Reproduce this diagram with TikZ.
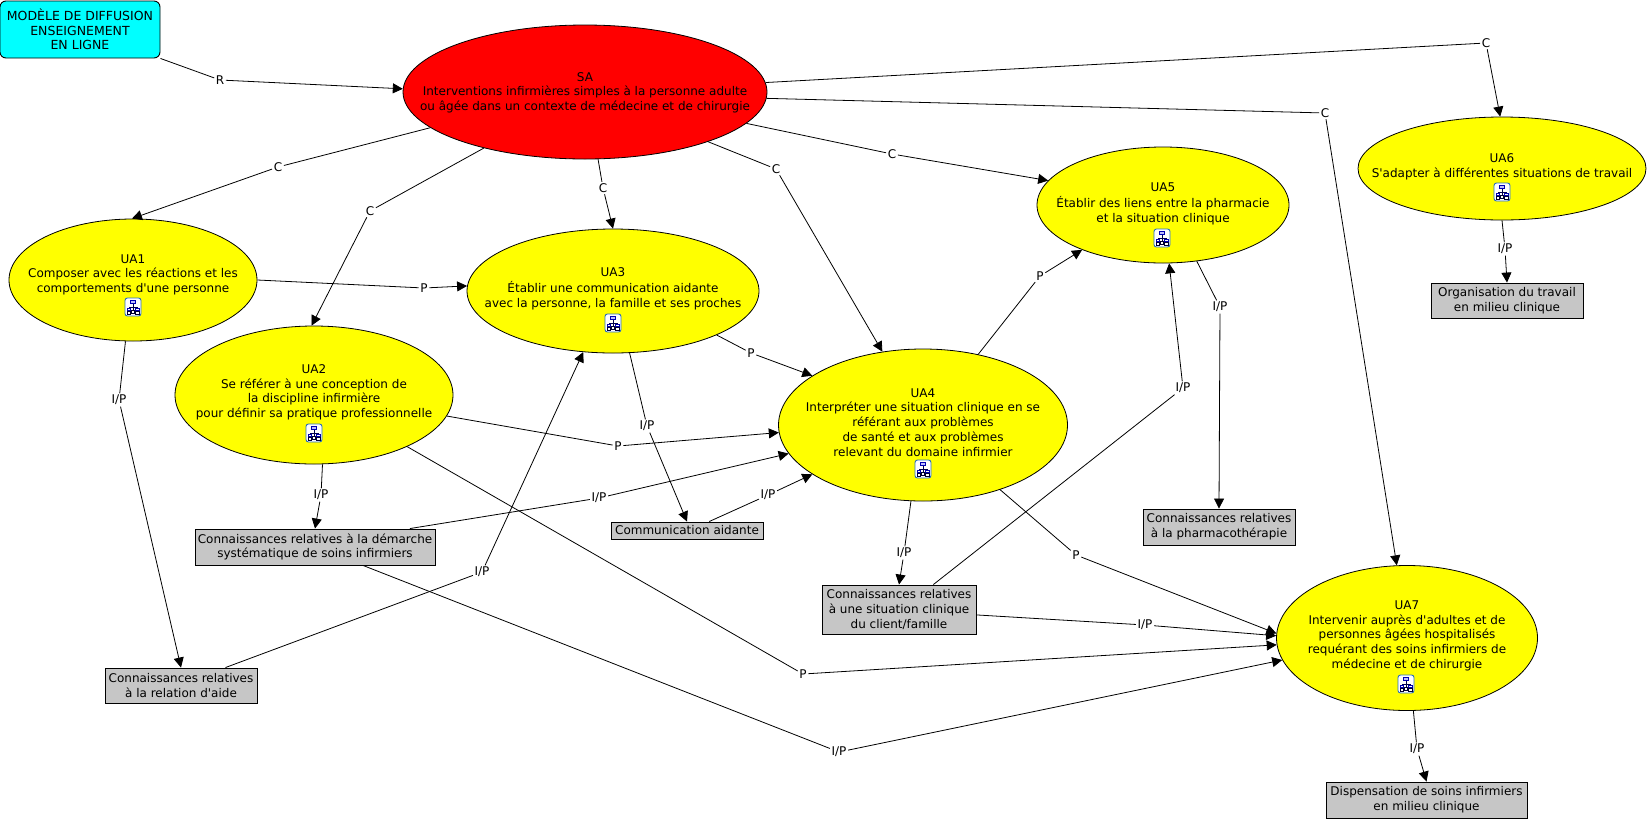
\documentclass[tikz,border=0pt]{standalone}
\usepackage{fontspec}
\setmainfont{DejaVu Sans}[Ligatures=TeXOff]
\usetikzlibrary{arrows.meta,shapes.geometric}
\definecolor{cmyellow}{RGB}{255,255,0}
\definecolor{cmcyan}{RGB}{0,255,255}
\definecolor{cmred}{RGB}{255,0,0}
\definecolor{cmgrey}{RGB}{198,198,198}
\definecolor{cmiconb}{RGB}{40,110,190}
\newcommand\cmtext[2][0]{\smash{\makebox[0pt][c]{\raisebox{\dimexpr-4pt-#1pt\relax}{$\vcenter{\hbox{\begin{tabular}{@{}c@{}}#2\end{tabular}}}$}}}}
\tikzset{
  every node/.style={font=\fontsize{12}{14.7}\selectfont,text=black},
  unit/.style={ellipse,draw=black,line width=.8pt,fill=cmyellow,inner sep=0pt,minimum width=#1},
  cbox/.style={rectangle,draw=black,line width=.9pt,fill=cmgrey,inner sep=0pt,align=center},
  lbl/.style={inner sep=1.5pt,fill=white},
  conn/.style={draw=black,line width=.8pt},
  arr/.style={conn,-{Triangle[length=10pt,width=10pt]}},
  cmicon/.pic={
    \draw[draw=cmiconb,fill=white,line width=.9pt,rounded corners=2.5pt] (-8,-9) rectangle (8,9);
    \draw[draw=black!70!blue,line width=.6pt] (0,-4) -- (0,4) (-4,0) -- (4,0) (-4,0) -- (-4,5) (4,0) -- (4,5);
    \draw[draw=blue!70!black,fill=blue!25,line width=.8pt] (-2.5,-6.5) rectangle (2.5,-3.5);
    \draw[draw=blue!70!black,fill=white,line width=.8pt] (-6,1) rectangle (-2.5,3.5) (2.5,1) rectangle (6,3.5);
    \draw[draw=black!80!blue,fill=white,line width=.8pt] (-6,4.5) rectangle (-2.5,7) (2.5,4.5) rectangle (6,7) (-1.3,3.5) rectangle (1.3,6);
  }
}
\begin{document}
\begin{tikzpicture}[x=1pt,y=-1pt]
\useasboundingbox[fill=white] (0,0) rectangle (1649,820);
% concepts
\node[rectangle,rounded corners=6pt,draw=black,line width=.9pt,fill=cmcyan,inner sep=0pt,minimum width=160pt,minimum height=57pt,align=center,font=\fontsize{12.5}{14.7}\selectfont] (model) at (80,29.5) {MODÈLE DE DIFFUSION\\ENSEIGNEMENT\\EN LIGNE};
\node[unit=364pt,minimum height=134pt,fill=cmred] (sa) at (585,92) {\cmtext[0]{SA\\Interventions infirmières simples à la personne adulte\\ou âgée dans un contexte de médecine et de chirurgie}};
\node[unit=248pt,minimum height=122pt] (ua1) at (133,280) {\cmtext[-6]{UA1\\Composer avec les réactions et les\\comportements d'une personne}};
\node[unit=278pt,minimum height=138pt] (ua2) at (314,395) {\cmtext[-3.5]{UA2\\Se référer à une conception de\\la discipline infirmière\\pour définir sa pratique professionnelle}};
\node[unit=292pt,minimum height=124pt] (ua3) at (613,291) {\cmtext[-3]{UA3\\Établir une communication aidante\\avec la personne, la famille et ses proches}};
\node[unit=289pt,minimum height=152pt] (ua4) at (923,425) {\cmtext[-2.3]{UA4\\Interpréter une situation clinique en se\\référant aux problèmes\\de santé et aux problèmes\\relevant du domaine infirmier}};
\node[unit=252pt,minimum height=116pt] (ua5) at (1163,205) {\cmtext[-2]{UA5\\Établir des liens entre la pharmacie\\et la situation clinique}};
\node[unit=288pt,minimum height=103pt] (ua6) at (1502,168.5) {\cmtext[-2.5]{UA6\\S'adapter à différentes situations de travail}};
\node[unit=261pt,minimum height=145pt] (ua7) at (1407,638) {\cmtext[-3]{UA7\\Intervenir auprès d'adultes et de\\personnes âgées hospitalisés\\requérant des soins infirmiers de\\médecine et de chirurgie}};
% knowledge boxes
\node[cbox,minimum width=152pt,minimum height=35pt] (org) at (1507,300.5) {Organisation du travail\\en milieu clinique};
\node[cbox,minimum width=152pt,minimum height=17pt] (comm) at (687,530.5) {Communication aidante};
\node[cbox,minimum width=154pt,minimum height=49pt] (clin) at (899,609.5) {Connaissances relatives\\à une situation clinique\\du client/famille};
\node[cbox,minimum width=240pt,minimum height=36pt] (dem) at (315,547) {Connaissances relatives à la démarche\\systématique de soins infirmiers};
\node[cbox,minimum width=152pt,minimum height=35pt] (rel) at (181,685.5) {Connaissances relatives\\à la relation d'aide};
\node[cbox,minimum width=152pt,minimum height=36pt] (pharm) at (1219,527) {Connaissances relatives\\à la pharmacothérapie};
\node[cbox,minimum width=201pt,minimum height=36pt] (disp) at (1426.5,800) {Dispensation de soins infirmiers\\en milieu clinique};
% icons
\path (133,307) pic {cmicon} (314,433) pic {cmicon} (613,323) pic {cmicon} (923,469) pic {cmicon} (1162,238) pic {cmicon} (1502,192) pic {cmicon} (1406,684) pic {cmicon};
% linking phrases
\node[lbl] (lR) at (220,80) {R};
\node[lbl] (lc1) at (278,167) {C};
\node[lbl] (lc2) at (370,211) {C};
\node[lbl] (lc3) at (603,188) {C};
\node[lbl] (lc4) at (776,169) {C};
\node[lbl] (lc5) at (892,154) {C};
\node[lbl] (lc6) at (1486,43) {C};
\node[lbl] (lc7) at (1325,113) {C};
\node[lbl] (lp13) at (424,288) {P};
\node[lbl] (lp34) at (751,353) {P};
\node[lbl] (lp24) at (618,446) {P};
\node[lbl] (lp45) at (1040,276) {P};
\node[lbl] (lp47) at (1076,555) {P};
\node[lbl] (lp27) at (803,674) {P};
\node[lbl] (li1) at (119,400) {I/P};
\node[lbl] (li2) at (321,495) {I/P};
\node[lbl] (li3) at (647,426) {I/P};
\node[lbl] (li4) at (904,553) {I/P};
\node[lbl] (li5) at (1220,307) {I/P};
\node[lbl] (li6) at (1505,249) {I/P};
\node[lbl] (li7) at (1417,749) {I/P};
\node[lbl] (lid4) at (599,498) {I/P};
\node[lbl] (lic4) at (768,495) {I/P};
\node[lbl] (licl5) at (1183,388) {I/P};
\node[lbl] (licl7) at (1145,625) {I/P};
\node[lbl] (lir3) at (482,572) {I/P};
\node[lbl] (lid7) at (839,752) {I/P};
% connectors
\draw[conn] (model.south east) -- (lR); \draw[arr] (lR) -- (sa.179);
\draw[conn] (sa.193.7) -- (lc1); \draw[arr] (lc1) -- (ua1.91);
\draw[conn] (sa.209) -- (lc2); \draw[arr] (lc2) -- (ua2.92);
\draw[conn] (sa.281) -- (lc3); \draw[arr] (lc3) -- (ua3.north);
\draw[conn] (sa.338) -- (lc4); \draw[arr] (lc4) -- (ua4.119.5);
\draw[conn] (sa.349) -- (lc5); \draw[arr] (lc5) -- (ua5.168.8);
\draw[conn] (sa.3.5) -- (lc6); \draw[arr] (lc6) -- (ua6.92);
\draw[conn] (sa.358) -- (lc7); \draw[arr] (lc7) -- (ua7.98);
\draw[conn] (ua1.east) -- (lp13); \draw[arr] (lp13) -- (ua3.178);
\draw[conn] (ua1.263.5) -- (li1); \draw[arr] (li1) -- (rel.north);
\draw[conn] (ua2.277.5) -- (li2); \draw[arr] (li2) -- (dem.north);
\draw[conn] (ua2.351) -- (lp24); \draw[arr] (lp24) -- (ua4.183);
\draw[conn] (ua2.331) -- (lp27); \draw[arr] (lp27) -- (ua7.183);
\draw[conn] (dem.11) -- (lid4); \draw[arr] (lid4) -- (ua4.192.5);
\draw[conn] (dem.-21) -- (lid7); \draw[arr] (lid7) -- (ua7.190);
\draw[conn] (rel.22) -- (lir3); \draw[arr] (lir3) -- (ua3.244);
\draw[conn] (ua3.285) -- (li3); \draw[arr] (li3) -- (comm.north);
\draw[conn] (ua3.337) -- (lp34); \draw[arr] (lp34) -- (ua4.156);
\draw[conn] (comm.22) -- (lic4); \draw[arr] (lic4) -- (ua4.204);
\draw[conn] (ua4.261.8) -- (li4); \draw[arr] (li4) -- (clin.north);
\draw[conn] (ua4.52) -- (lp45); \draw[arr] (lp45) -- (ua5.209);
\draw[conn] (ua4.320) -- (lp47); \draw[arr] (lp47) -- (ua7.178);
\draw[conn] (clin.36.6) -- (licl5); \draw[arr] (licl5) -- (ua5.276);
\draw[conn] (clin.-4) -- (licl7); \draw[arr] (licl7) -- (ua7.179);
\draw[conn] (ua5.301) -- (li5); \draw[arr] (li5) -- (pharm.north);
\draw[conn] (ua6.south) -- (li6); \draw[arr] (li6) -- (org.north);
\draw[conn] (ua7.275) -- (li7); \draw[arr] (li7) -- (disp.north);
\end{tikzpicture}
\end{document}
